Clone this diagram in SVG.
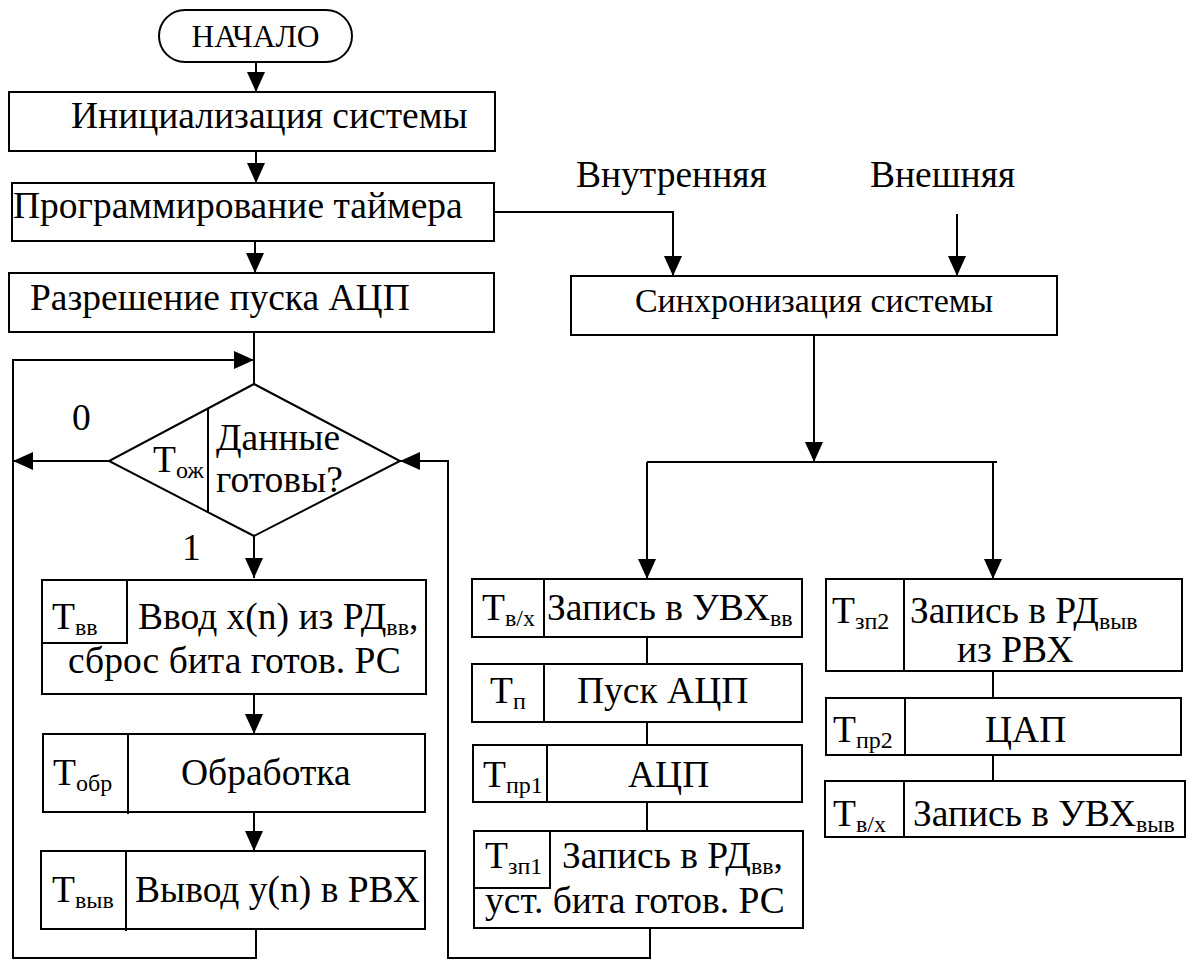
<svg xmlns="http://www.w3.org/2000/svg" width="1193" height="961" viewBox="0 0 1193 961" font-family="Liberation Serif, DejaVu Serif, serif">
  <defs>
    <marker id="arrow" markerUnits="userSpaceOnUse" markerWidth="20" markerHeight="18" refX="20" refY="9" orient="auto">
      <path d="M0,0 L20,9 L0,18 z" fill="#000"/>
    </marker>
    <style>
      .box { fill: #fff; stroke: #000; stroke-width: 2; }
      .ln { fill: none; stroke: #000; stroke-width: 2; }
      .arr { fill: none; stroke: #000; stroke-width: 2; marker-end: url(#arrow); }
      text { font-family: 'Liberation Serif', 'DejaVu Serif', serif; font-size: 37.5px; fill: #000; }
      .sm { font-size: 34px; }
      .start { font-size: 31.5px; }
      .sub { font-size: 24px; }
    </style>
  </defs>
  <rect width="1193" height="961" fill="#fff"/>

  <!-- connectors -->
  <g id="connectors">
    <path class="arr" d="M256,62 V92"/>
    <path class="arr" d="M256,151 V183"/>
    <path class="arr" d="M494,212 H673 V276"/>
    <path class="arr" d="M255,241 V273"/>
    <path class="arr" d="M957,214 V276"/>
    <path class="ln" d="M254,332 V384"/>
    <path class="arr" d="M256,929 V958 H13 V360 H254"/>
    <path class="arr" d="M109,461 H13"/>
    <path class="arr" d="M254,536 V578"/>
    <path class="arr" d="M254,694 V734"/>
    <path class="arr" d="M254,812 V851"/>
    <path class="arr" d="M814,335 V462"/>
    <path class="ln" d="M647,462 H997"/>
    <path class="arr" d="M647,462 V579"/>
    <path class="arr" d="M993,462 V579"/>
    <path class="ln" d="M647,637 V664"/>
    <path class="ln" d="M647,722 V745"/>
    <path class="ln" d="M647,802 V831"/>
    <path class="ln" d="M993,671 V698"/>
    <path class="ln" d="M993,755 V781"/>
    <path class="arr" d="M650,928 V958 H448 V461 H400"/>
  </g>

  <!-- labels on branches and inputs -->
  <g id="labels">
    <text x="72" y="430">0</text>
    <text x="182" y="560">1</text>
    <text x="576" y="187">Внутренняя</text>
    <text x="870" y="187">Внешняя</text>
  </g>

  <g id="start">
    <rect class="box" x="159" y="10" width="193" height="52" rx="26"/>
    <text class="start" x="255.5" y="47" text-anchor="middle">НАЧАЛО</text>
  </g>

  <g id="init">
    <rect class="box" x="9" y="92" width="486" height="59"/>
    <text x="71" y="128">Инициализация системы</text>
  </g>

  <g id="timer">
    <rect class="box" x="12" y="183" width="482" height="58"/>
    <text x="13" y="218">Программирование таймера</text>
  </g>

  <g id="enable">
    <rect class="box" x="9" y="273" width="485" height="59"/>
    <text x="30" y="310">Разрешение пуска АЦП</text>
  </g>

  <g id="sync">
    <rect class="box" x="571" y="276" width="486" height="59"/>
    <text class="sm" x="814" y="312" text-anchor="middle">Синхронизация системы</text>
  </g>

  <g id="ready">
    <polygon class="box" points="254,384 400,461 254,536 109,461"/>
    <line class="ln" x1="208" y1="408" x2="208" y2="513"/>
    <text x="153" y="472">Т<tspan class="sub" dy="6">ож</tspan></text>
    <text x="216" y="450">Данные</text>
    <text x="216" y="492">готовы?</text>
  </g>

  <g id="input">
    <rect class="box" x="42" y="580" width="384" height="114"/>
    <rect class="box" x="42" y="580" width="85" height="63"/>
    <text x="52" y="629">Т<tspan class="sub" dy="6">вв</tspan></text>
    <text x="138" y="629">Ввод x(n) из РД<tspan class="sub" dy="6">вв</tspan><tspan dy="-6">,</tspan></text>
    <text x="68" y="673">сброс бита готов. РС</text>
  </g>

  <g id="process">
    <rect class="box" x="43" y="734" width="382" height="78"/>
    <line class="ln" x1="128" y1="734" x2="128" y2="814"/>
    <text x="53" y="785">Т<tspan class="sub" dy="6">обр</tspan></text>
    <text x="181" y="785">Обработка</text>
  </g>

  <g id="output">
    <rect class="box" x="41" y="851" width="384" height="78"/>
    <line class="ln" x1="126" y1="851" x2="126" y2="931"/>
    <text x="52" y="902">Т<tspan class="sub" dy="6">выв</tspan></text>
    <text x="135" y="902">Вывод y(n) в РВХ</text>
  </g>

  <g id="sh-in">
    <rect class="box" x="472" y="579" width="330" height="58"/>
    <line class="ln" x1="544" y1="579" x2="544" y2="637"/>
    <text x="482" y="620">Т<tspan class="sub" dy="6">в/х</tspan></text>
    <text x="547" y="620">Запись в УВХ<tspan class="sub" dy="6">вв</tspan></text>
  </g>

  <g id="adc-start">
    <rect class="box" x="472" y="664" width="330" height="58"/>
    <line class="ln" x1="544" y1="664" x2="544" y2="722"/>
    <text x="490" y="703">Т<tspan class="sub" dy="6">п</tspan></text>
    <text x="577" y="703">Пуск АЦП</text>
  </g>

  <g id="adc">
    <rect class="box" x="473" y="745" width="329" height="57"/>
    <line class="ln" x1="547" y1="745" x2="547" y2="802"/>
    <text x="483" y="787">Т<tspan class="sub" dy="6">пр1</tspan></text>
    <text x="628" y="787">АЦП</text>
  </g>

  <g id="rd-in">
    <rect class="box" x="474" y="831" width="329" height="97"/>
    <rect class="box" x="474" y="831" width="76" height="57"/>
    <text x="485" y="868">Т<tspan class="sub" dy="6">зп1</tspan></text>
    <text x="562" y="868">Запись в РД<tspan class="sub" dy="6">вв</tspan><tspan dy="-6">,</tspan></text>
    <text x="485" y="913">уст. бита готов. РС</text>
  </g>

  <g id="rd-out">
    <rect class="box" x="826" y="579" width="356" height="92"/>
    <line class="ln" x1="904" y1="579" x2="904" y2="671"/>
    <text x="832" y="623">Т<tspan class="sub" dy="6">зп2</tspan></text>
    <text x="910" y="623">Запись в РД<tspan class="sub" dy="6">выв</tspan></text>
    <text x="957" y="662">из РВХ</text>
  </g>

  <g id="dac">
    <rect class="box" x="826" y="698" width="355" height="57"/>
    <line class="ln" x1="905" y1="698" x2="905" y2="755"/>
    <text x="833" y="742">Т<tspan class="sub" dy="6">пр2</tspan></text>
    <text x="985" y="742">ЦАП</text>
  </g>

  <g id="sh-out">
    <rect class="box" x="825" y="781" width="360" height="56"/>
    <line class="ln" x1="904" y1="781" x2="904" y2="837"/>
    <text x="833" y="826">Т<tspan class="sub" dy="6">в/х</tspan></text>
    <text x="913" y="826">Запись в УВХ<tspan class="sub" dy="6">выв</tspan></text>
  </g>
</svg>
